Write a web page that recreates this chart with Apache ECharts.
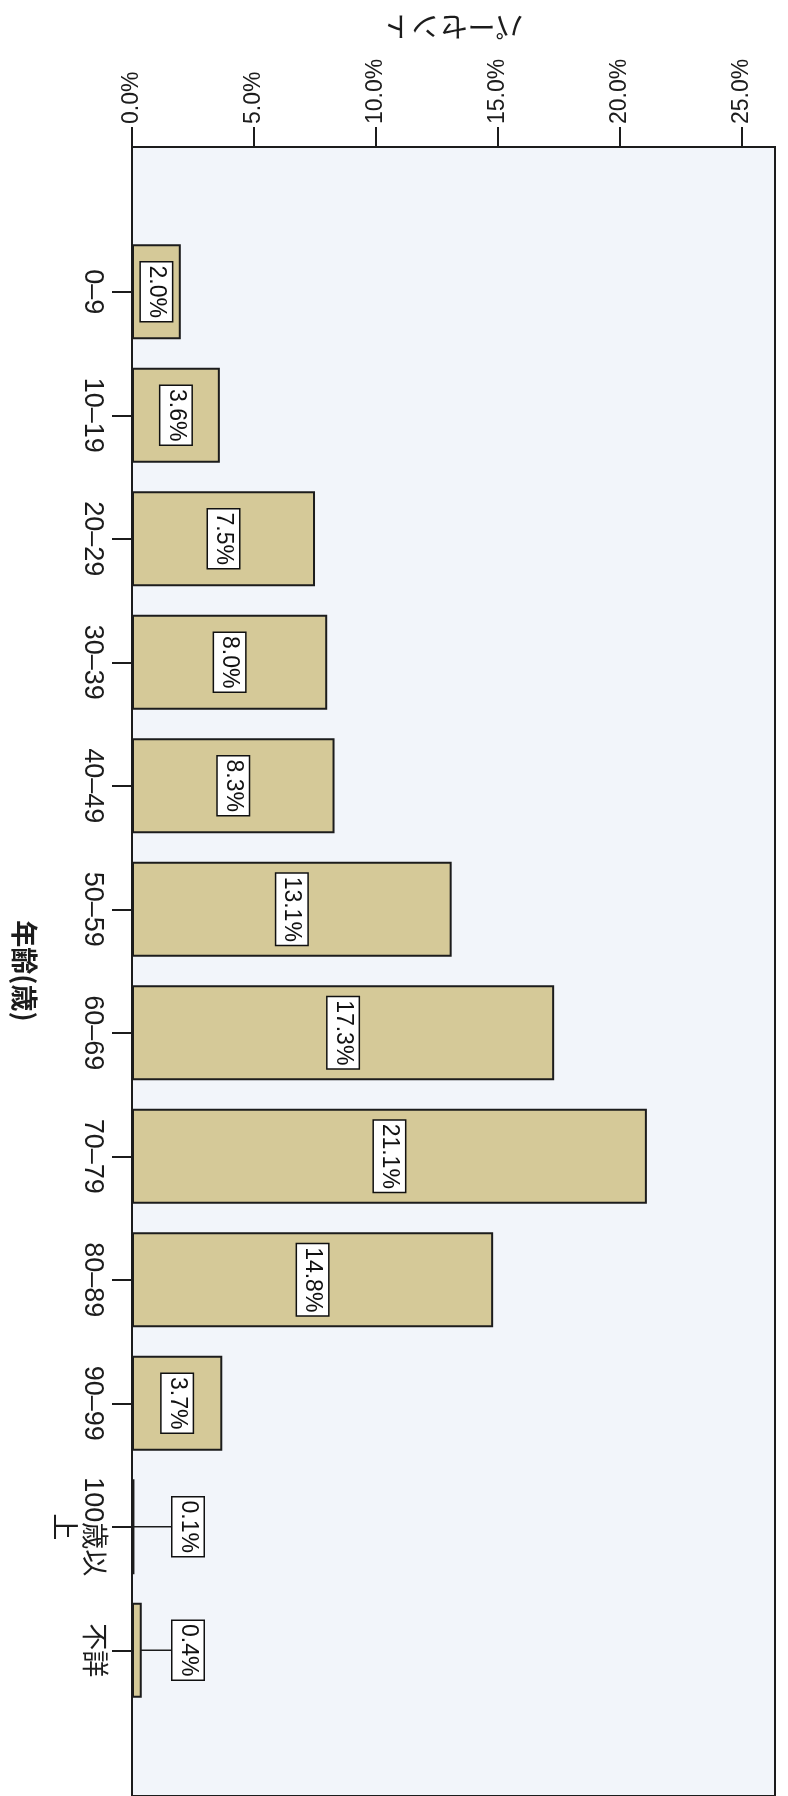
<!DOCTYPE html>
<html>
<head>
<meta charset="utf-8">
<script src="https://cdn.jsdelivr.net/npm/echarts@6/dist/echarts.min.js"></script>
<style>
  html, body { margin: 0; padding: 0; background: #ffffff; }
  #chart { width: 788px; height: 1796px; }
</style>
</head>
<body>
<div id="chart"></div>
<script>
// Age groups and their share of the total (%)
const ageGroups = ['0–9', '10–19', '20–29', '30–39', '40–49', '50–59', '60–69', '70–79', '80–89', '90–99', '100歳以\n上', '不詳'];
const percentValues = [2.0, 3.6, 7.5, 8.0, 8.3, 13.1, 17.3, 21.1, 14.8, 3.7, 0.1, 0.4];
const percentTicks = [0, 5, 10, 15, 20, 25];
const valueAxisTitle = 'パーセント';
const categoryAxisTitle = '年齢(歳)';

// Scale extent: the plot frame runs a little past the last tick
const valueMax = 26.35;

const ink = '#1c1c1c';
const latinFont = "'Liberation Sans', 'Noto Sans CJK JP', sans-serif";
const cjkFont = "'Noto Sans CJK JP', sans-serif";

const chart = echarts.init(document.getElementById('chart'), null, { renderer: 'canvas' });

// Bars too short to hold their label get it placed to the right with a leader line
const barData = percentValues.map(v => (v < 1
  ? {
      value: v,
      label: { position: [56, '50%'], align: 'center', verticalAlign: 'middle' },
      labelLine: { show: true, lineStyle: { color: ink, width: 1.5 } }
    }
  : v));

chart.setOption({
  backgroundColor: '#ffffff',
  animation: false,
  grid: [
    // plot frame: background, border and the percent scale
    { left: 132, right: 13, top: 147, bottom: -4, show: true,
      backgroundColor: '#f2f5fa', borderColor: ink, borderWidth: 2 },
    // bars and age categories
    { left: 132, right: 13, top: 230, bottom: 84 }
  ],
  xAxis: [
    {
      gridIndex: 0, type: 'value', position: 'top',
      min: 0, max: valueMax,
      axisLine: { show: true, onZero: false, lineStyle: { color: ink, width: 2 } },
      axisTick: { show: true, length: 20, customValues: percentTicks, lineStyle: { color: ink, width: 2 } },
      axisLabel: {
        customValues: percentTicks, rotate: -90, margin: 23,
        formatter: v => v.toFixed(1) + '%',
        fontSize: 23, fontFamily: latinFont, color: ink
      },
      splitLine: { show: false },
      name: valueAxisTitle, nameLocation: 'middle', nameGap: 106, nameRotate: 180,
      nameTextStyle: { fontSize: 28, fontFamily: cjkFont, color: ink }
    },
    {
      gridIndex: 1, type: 'value', min: 0, max: valueMax, show: false
    }
  ],
  yAxis: [
    {
      gridIndex: 0, type: 'value',
      axisLine: { show: true, onZero: false, lineStyle: { color: ink, width: 2 } },
      axisTick: { show: false }, axisLabel: { show: false }, splitLine: { show: false }
    },
    {
      gridIndex: 1, type: 'category', data: ageGroups, inverse: true,
      axisLine: { show: false, onZero: false },
      axisTick: { show: true, interval: 0, length: 20, alignWithLabel: true, lineStyle: { color: ink, width: 2 } },
      axisLabel: { interval: 0, rotate: -90, margin: 25, fontSize: 27, fontFamily: latinFont, color: ink, lineHeight: 30 },
      name: categoryAxisTitle, nameLocation: 'middle', nameGap: 94, nameRotate: -90,
      nameTextStyle: { fontSize: 27, fontWeight: 'bold', fontFamily: cjkFont, color: ink }
    }
  ],
  series: [
    {
      type: 'bar',
      xAxisIndex: 1, yAxisIndex: 1,
      data: barData,
      barWidth: 95,
      itemStyle: { color: '#d5c998', borderColor: ink, borderWidth: 2 },
      label: {
        show: true, position: 'inside', rotate: -90,
        formatter: p => p.value.toFixed(1) + '%',
        fontSize: 23, lineHeight: 27, fontFamily: latinFont, color: '#111',
        backgroundColor: '#ffffff', borderColor: '#111', borderWidth: 1.5,
        padding: [2, 3, 2, 3]
      }
    }
  ]
});
</script>
</body>
</html>
